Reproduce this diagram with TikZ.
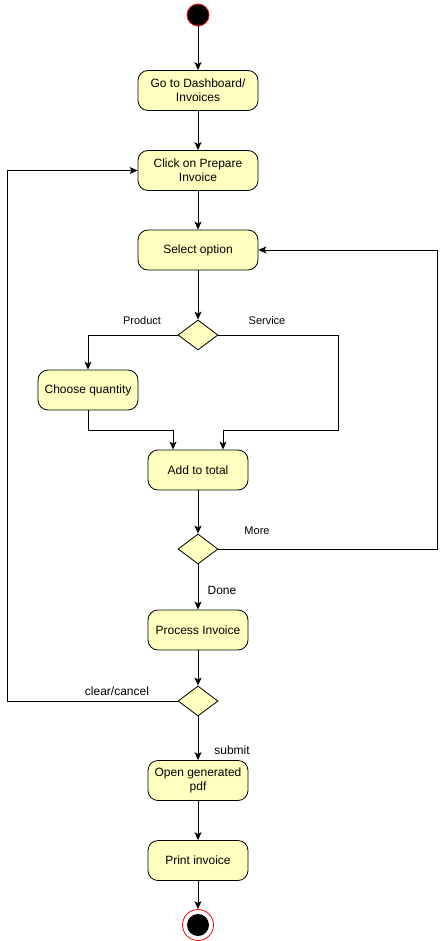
\documentclass[tikz,border=0pt]{standalone}
\usepackage{fontspec}
\setmainfont{Liberation Sans}
\usetikzlibrary{shapes.geometric,arrows.meta}
\definecolor{actfill}{HTML}{FFFFC0}
\tikzset{
  actbox/.style={draw=black, fill=actfill, rounded corners=10pt, line width=0.8pt,
    minimum width=100pt, minimum height=40pt, align=center, inner sep=2pt,
    font=\fontsize{12}{14}\selectfont},
  widebox/.style={actbox, minimum width=120pt},
  decision/.style={draw=black, fill=actfill, diamond, line width=0.8pt,
    minimum width=40pt, minimum height=30pt, inner sep=0pt},
  arr/.style={draw=black, line width=0.9pt, -{Stealth[length=8pt,width=7pt,inset=2pt]}},
  lbl/.style={font=\fontsize{12}{14}\selectfont, inner sep=0pt},
  slbl/.style={font=\fontsize{11}{13}\selectfont, inner sep=0pt},
}
\begin{document}
\begin{tikzpicture}[x=1pt,y=-1pt]
\useasboundingbox (0,0) rectangle (446,941);
\node[circle, fill=black, draw=red, line width=0.8pt, minimum size=22pt, inner sep=0pt] (start) at (198,15) {};
\node[widebox] (b1) at (198,90.5) {Go to Dashboard/\\Invoices};
\node[widebox] (b2) at (198,170.5) {Click on Prepare\\Invoice};
\node[widebox] (b3) at (198,250) {Select option};
\node[decision] (d1) at (198,335) {};
\node[actbox] (cq) at (88,390) {Choose quantity};
\node[actbox] (add) at (198,470) {Add to total};
\node[decision] (d2) at (198,549) {};
\node[actbox] (proc) at (198,630) {Process Invoice};
\node[decision] (d3) at (198,701) {};
\node[actbox] (open) at (198,780.5) {Open generated\\pdf};
\node[actbox] (print) at (198,860.5) {Print invoice};
\node[circle, draw=red, fill=white, line width=0.8pt, minimum size=31pt, inner sep=0pt] (end) at (198,925) {};
\node[circle, fill=black, minimum size=22pt, inner sep=0pt] (endin) at (198,925) {};

\node[slbl] (lprod) at (142,321) {Product};
\node[slbl] (lserv) at (267,321) {Service};
\node[slbl] (lmore) at (257,531) {More};
\node[lbl] (ldone) at (222,590) {Done};
\node[lbl] (lclear) at (117,691) {clear/cancel};
\node[lbl] (lsub) at (232,750) {submit};

\draw[arr] (start) -- (b1);
\draw[arr] (b1) -- (b2);
\draw[arr] (b2) -- (b3);
\draw[arr] (b3) -- (d1);
\draw[arr] (d1.west) -| (cq.north);
\draw[arr] (d1.east) -- (338,335) -- (338,430) -| ([xshift=25pt]add.north);
\draw[arr] (cq.south) -- (88,430) -| ([xshift=-25pt]add.north);
\draw[arr] (add) -- (d2);
\draw[arr] (d2.east) -- (437,549) |- (b3.east);
\draw[arr] (d2) -- (proc);
\draw[arr] (proc) -- (d3);
\draw[arr] (d3.west) -- (7.5,701) |- (b2.west);
\draw[arr] (d3) -- (open);
\draw[arr] (open) -- (print);
\draw[arr] (print) -- (end);
\end{tikzpicture}
\end{document}
